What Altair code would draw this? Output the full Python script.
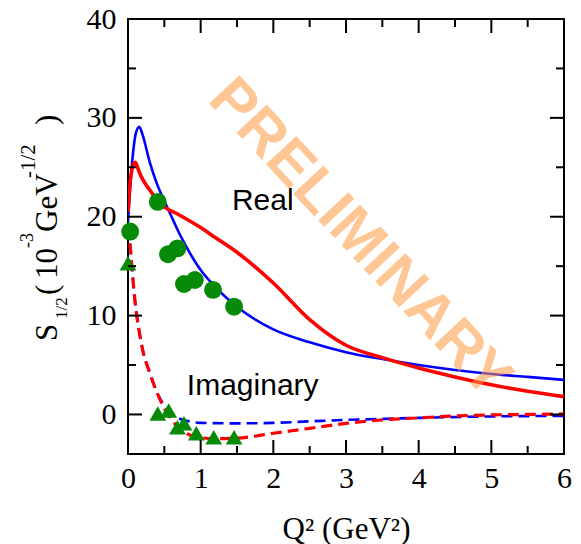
import altair as alt
import pandas as pd

# ---------------------------------------------------------------------------
# Data: S_1/2 amplitude (10^-3 GeV^-1/2) versus Q^2 (GeV^2)
# ---------------------------------------------------------------------------
# Real part, model A (blue) and model B (red)
real_a_q2 = [0.0, 0.03, 0.07, 0.11, 0.155, 0.2, 0.3, 0.4, 0.5, 0.6, 0.7, 0.8,
             1.0, 1.2, 1.5, 2.0, 2.5, 3.0, 3.5, 4.0, 4.5, 5.0, 5.5, 6.0]
real_a_s = [19.5, 23.0, 26.5, 28.5, 29.1, 28.3, 25.5, 23.3, 21.6, 20.0, 18.4, 17.0,
            14.6, 12.9, 10.9, 8.6, 7.3, 6.3, 5.6, 5.0, 4.5, 4.1, 3.8, 3.5]

real_b_q2 = [0.0, 0.03, 0.07, 0.1, 0.15, 0.2, 0.3, 0.4, 0.5, 0.7, 1.0, 1.2,
             1.5, 2.0, 2.5, 3.0, 3.5, 4.0, 4.5, 5.0, 5.5, 6.0]
real_b_s = [20.5, 23.5, 25.2, 25.5, 24.6, 23.8, 22.7, 21.7, 21.0, 20.2, 18.9, 17.9,
            16.4, 13.3, 9.6, 7.0, 5.75, 4.7, 3.8, 3.0, 2.35, 1.8]

# Imaginary part, model A (blue dashed) and model B (red dashed)
imag_a_q2 = [0.0, 0.03, 0.07, 0.1, 0.15, 0.2, 0.3, 0.4, 0.5, 0.6, 0.7, 0.85,
             1.0, 1.5, 2.0, 2.5, 3.0, 3.5, 4.0, 5.0, 6.0]
imag_a_s = [19.0, 17.0, 13.5, 11.2, 8.6, 6.6, 4.2, 2.2, 0.9, 0.1, -0.4, -0.7,
            -0.85, -0.9, -0.85, -0.7, -0.55, -0.45, -0.35, -0.2, -0.15]

imag_b_q2 = [0.0, 0.03, 0.07, 0.1, 0.15, 0.2, 0.3, 0.4, 0.5, 0.6, 0.7, 0.8, 0.9,
             1.0, 1.2, 1.5, 2.0, 2.5, 3.0, 3.5, 4.0, 4.5, 5.0, 5.5, 6.0]
imag_b_s = [19.0, 17.0, 13.5, 11.2, 8.6, 6.6, 4.2, 2.2, 0.6, -0.5, -1.4, -1.9, -2.2,
            -2.35, -2.45, -2.4, -1.9, -1.4, -0.9, -0.55, -0.35, -0.15, -0.05, 0.0, 0.05]

# Measured points
real_pts_q2 = [0.03, 0.41, 0.55, 0.68, 0.77, 0.92, 1.17, 1.46]
real_pts_s = [18.5, 21.5, 16.2, 16.8, 13.2, 13.6, 12.6, 10.9]

imag_pts_q2 = [0.0, 0.41, 0.56, 0.68, 0.77, 0.94, 1.18, 1.46]
imag_pts_s = [15.3, 0.1, 0.4, -1.3, -0.9, -1.9, -2.3, -2.3]

# Axis ticks
x_major = [0, 1, 2, 3, 4, 5, 6]
x_minor = [0.5, 1.5, 2.5, 3.5, 4.5, 5.5]
y_major = [0, 10, 20, 30, 40]
y_minor = [5, 15, 25, 35]

# ---------------------------------------------------------------------------
W, H = 436, 435
SERIF = "Liberation Serif"
SANS = "Liberation Sans"

xs = alt.Scale(domain=[0, 6], nice=False, zero=False)
ys = alt.Scale(domain=[-4, 40], nice=False, zero=False)

x_axis = alt.Axis(
    values=x_major, format="d", labelFont=SERIF, labelFontSize=30,
    labelColor="black", labelPadding=9, labelFlush=False, labelOverlap=False,
    ticks=False, domain=False, grid=False,
    title="Q² (GeV²)", titleFont=SERIF, titleFontSize=31,
    titleFontWeight="normal", titleColor="black", titleY=84,
    titleBaseline="alphabetic")
y_axis = alt.Axis(
    values=y_major, format="d", labelFont=SERIF, labelFontSize=30,
    labelColor="black", labelPadding=12, labelFlush=False, labelOverlap=False,
    ticks=False, domain=False, grid=False, title="")


def X(field):
    return alt.X(field, scale=xs, axis=x_axis)


def Y(field):
    return alt.Y(field, scale=ys, axis=y_axis)


one_row = pd.DataFrame({"k": [0]})


def curve(q2, s, color, width, dash=None):
    df = pd.DataFrame({"q2": q2, "s": s})
    kw = dict(color=color, strokeWidth=width, interpolate="monotone", clip=True)
    if dash:
        kw["strokeDash"] = dash
    return alt.Chart(df).mark_line(**kw).encode(x=X("q2:Q"), y=Y("s:Q"))


def points(q2, s, shape, size):
    df = pd.DataFrame({"q2": q2, "s": s})
    return alt.Chart(df).mark_point(
        shape=shape, size=size, filled=True, color="#078a07", opacity=1, strokeWidth=0
    ).encode(x=X("q2:Q"), y=Y("s:Q"))


def ticks(vals, length, side, axis_is_x):
    df = pd.DataFrame({"v": vals})
    base = alt.Chart(df).mark_rule(color="black", strokeWidth=2)
    if axis_is_x:
        pos = X("v:Q")
        if side == "bottom":
            return base.encode(x=pos, y=alt.value(H), y2=alt.value(H - length))
        return base.encode(x=pos, y=alt.value(0), y2=alt.value(length))
    pos = Y("v:Q")
    if side == "left":
        return base.encode(y=pos, x=alt.value(0), x2=alt.value(length))
    return base.encode(y=pos, x=alt.value(W), x2=alt.value(W - length))


tick_layers = [
    ticks(x_major, 14, "bottom", True), ticks(x_minor, 8, "bottom", True),
    ticks(x_major, 14, "top", True), ticks(x_minor, 8, "top", True),
    ticks(y_major, 14, "left", False), ticks(y_minor, 8, "left", False),
    ticks(y_major, 14, "right", False), ticks(y_minor, 8, "right", False),
]


# Rotated y-axis title built from pieces so sub/superscripts sit properly
def title_piece(text, size, x, y):
    return alt.Chart(one_row).mark_text(
        text=text, font=SERIF, fontSize=size, angle=270, align="left",
        baseline="alphabetic", color="black",
    ).encode(x=alt.value(x), y=alt.value(y))


y_title = [
    title_piece("S", 31, -71, 322),
    title_piece("1/2", 17, -61, 300),
    title_piece("(", 31, -71, 276),
    title_piece("10", 31, -71, 260),
    title_piece("-3", 18, -95, 229),
    title_piece("GeV", 31, -71, 213),
    title_piece("-1/2", 21, -93, 159),
    title_piece(")", 31, -71, 106),
]


def label(text, q2, s):
    return alt.Chart(one_row).mark_text(
        text=text, font=SANS, fontSize=30, align="left", baseline="alphabetic",
        color="black",
    ).encode(x=alt.datum(q2, scale=xs, axis=x_axis), y=alt.datum(s, scale=ys, axis=y_axis))


watermark = alt.Chart(one_row).mark_text(
    text="PRELIMINARY", font=SANS, fontSize=60, fontWeight="bold", angle=47,
    align="center", baseline="middle", color="#FF9A40", opacity=0.55,
).encode(x=alt.datum(3.19, scale=xs, axis=x_axis), y=alt.datum(17.8, scale=ys, axis=y_axis))

chart = alt.layer(
    curve(imag_a_q2, imag_a_s, "#0000ff", 2.6, [11, 6]),
    curve(imag_b_q2, imag_b_s, "#ff0000", 3.2, [11, 6]),
    curve(real_a_q2, real_a_s, "#0000ff", 2.6),
    curve(real_b_q2, real_b_s, "#ff0000", 3.6),
    points(real_pts_q2, real_pts_s, "circle", 320),
    points(imag_pts_q2, imag_pts_s, "triangle-up", 280),
    *tick_layers,
    label("Real", 1.43, 20.7),
    label("Imaginary", 0.81, 1.95),
    *y_title,
    watermark,
).properties(
    width=W,
    height=H,
    padding={"left": 128, "top": 19, "right": 17, "bottom": 90},
    autosize=alt.AutoSizeParams(type="none"),
    background="white",
).configure_view(stroke="black", strokeWidth=2)

chart.save("out.html", embed_options={"renderer": "svg", "actions": False})
